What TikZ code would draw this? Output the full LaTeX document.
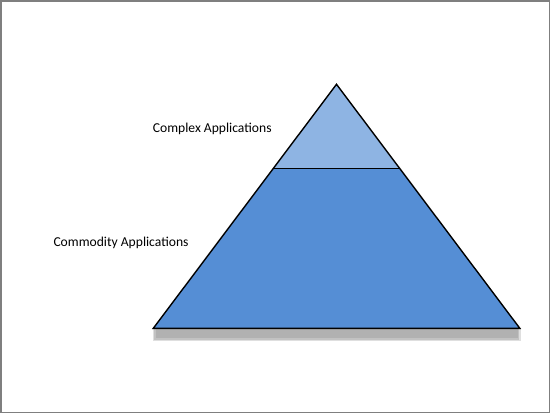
\documentclass[tikz,border=0pt]{standalone}
\usepackage{fontspec}
\setmainfont{Carlito}
\definecolor{toptri}{HTML}{8EB4E3}
\definecolor{bottrap}{HTML}{558ED5}
\definecolor{framegrey}{HTML}{7F7F7F}
\definecolor{shadowgrey}{HTML}{A6A6A6}
\begin{document}
\begin{tikzpicture}[x=1pt,y=-1pt,
  label/.style={font=\fontsize{13.6}{16}\selectfont, anchor=west, inner sep=0pt},
  edge/.style={draw=black, line width=1.4pt, line join=miter}]
\useasboundingbox (0,0) rectangle (550,413);
\fill[white] (0,0) rectangle (550,413);
\draw[framegrey, line width=1.5pt] (0.75,0.75) rectangle (549.25,412.25);
% shadow
\fill[shadowgrey, opacity=0.35] (152.5,328) rectangle (520.5,340.5);
\fill[shadowgrey, opacity=0.5] (154,329) rectangle (519,339.5);
\fill[shadowgrey, opacity=0.6] (155.5,329) rectangle (517.5,338.3);
% points
\coordinate (apex) at (336.5,84.3);
\coordinate (bl) at (153.3,328.3);
\coordinate (br) at (519.8,328.3);
\coordinate (ml) at (273.4,168.3);
\coordinate (mr) at (399.6,168.3);
\fill[bottrap] (ml) -- (mr) -- (br) -- (bl) -- cycle;
\fill[toptri] (apex) -- (mr) -- (ml) -- cycle;
\draw[edge] (ml) -- (mr);
\draw[edge] (apex) -- (br) -- (bl) -- cycle;
\node[label] (complex) at (152.7,129) {Complex Applications};
\node[label] (commodity) at (53.3,243) {Commodity Applications};
\end{tikzpicture}
\end{document}
